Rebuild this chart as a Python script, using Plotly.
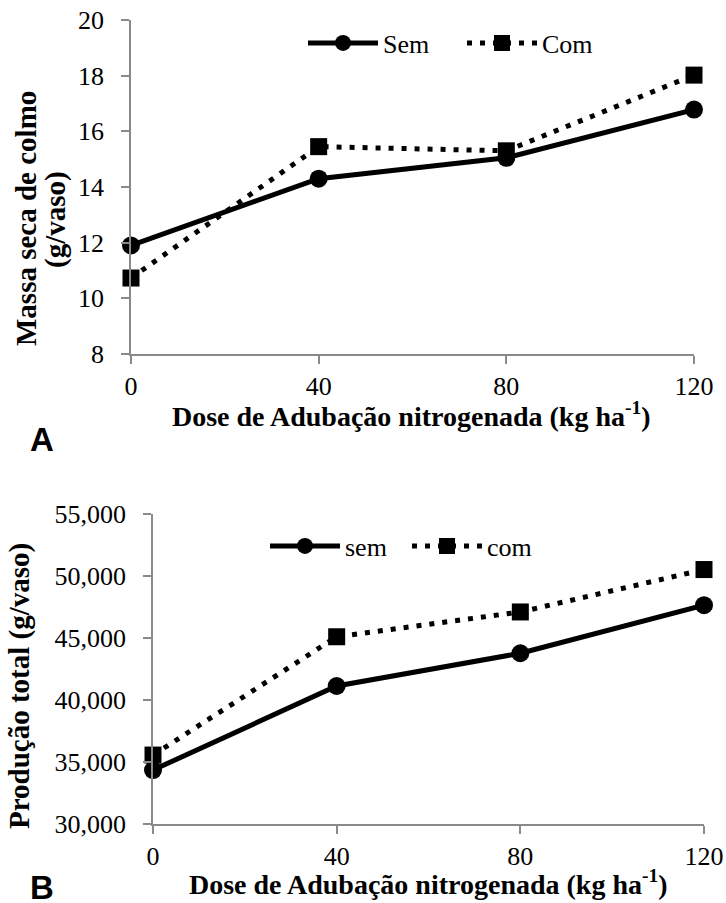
import plotly.graph_objects as go

doses = [0, 40, 80, 120]
massa_sem = [11.9, 14.3, 15.05, 16.78]
massa_com = [10.73, 15.45, 15.3, 18.02]
prod_sem = [34350, 41130, 43770, 47650]
prod_com = [35560, 45100, 47100, 50520]

W, H = 726, 903
SERIF = "Liberation Serif"


def px(x):
    return x / W


def py(y):
    return 1 - y / H


fig = go.Figure()

line_sem = dict(color="black", width=5)
line_com = dict(color="black", width=5, dash="5px,8px")
mk_c = dict(symbol="circle", size=18, color="black")
mk_s = dict(symbol="square", size=17, color="black")

fig.add_trace(go.Scatter(x=doses, y=massa_sem, name="Sem", mode="lines+markers",
                         line=line_sem, marker=mk_c, xaxis="x", yaxis="y",
                         legend="legend", cliponaxis=False))
fig.add_trace(go.Scatter(x=doses, y=massa_com, name="Com", mode="lines+markers",
                         line=line_com, marker=mk_s, xaxis="x", yaxis="y",
                         legend="legend", cliponaxis=False))
fig.add_trace(go.Scatter(x=doses, y=prod_sem, name="sem", mode="lines+markers",
                         line=line_sem, marker=mk_c, xaxis="x2", yaxis="y2",
                         legend="legend2", cliponaxis=False))
fig.add_trace(go.Scatter(x=doses, y=prod_com, name="com", mode="lines+markers",
                         line=line_com, marker=mk_s, xaxis="x2", yaxis="y2",
                         legend="legend2", cliponaxis=False))

axis_common = dict(showline=True, linecolor="#8a8a8a", linewidth=1.5, ticks="outside",
                   tickcolor="#8a8a8a", tickwidth=1.5, ticklen=8, showgrid=False,
                   zeroline=False, automargin=False, ticklabeloverflow="allow",
                   tickfont=dict(family=SERIF, size=26, color="black"))
xax = dict(axis_common, ticklabelstandoff=0)
yax = dict(axis_common, ticklabelstandoff=12)

xtitle = "<b>Dose de Adubação nitrogenada (kg ha<sup>-1</sup>)</b>"
tfont = dict(family=SERIF, size=28, color="black")
yfont = dict(family=SERIF, size=29, color="black")


def ann(text, x, y, font, angle=0):
    return dict(text=text, x=px(x), y=py(y), xref="paper", yref="paper",
                xanchor="center", yanchor="middle", showarrow=False,
                textangle=angle, font=font)


fig.update_layout(
    width=W, height=H,
    margin=dict(l=0, r=0, t=0, b=0, autoexpand=False),
    paper_bgcolor="white", plot_bgcolor="white",
    xaxis=dict(domain=[px(131), px(694)], anchor="y", range=[0, 120],
               tickvals=doses, **xax),
    yaxis=dict(domain=[py(354), py(20)], anchor="x", range=[8, 20], dtick=2, **yax),
    xaxis2=dict(domain=[px(153), px(704)], anchor="y2", range=[0, 120],
                tickvals=doses, **xax),
    yaxis2=dict(domain=[py(824), py(514)], anchor="x2", range=[30000, 55000],
                dtick=5000, tickformat=",d", **yax),
    legend=dict(orientation="h", x=px(303), y=py(43), xanchor="left", yanchor="middle",
                font=dict(family=SERIF, size=26, color="black"), bgcolor="rgba(0,0,0,0)",
                itemwidth=70, entrywidth=74),
    legend2=dict(orientation="h", x=px(265), y=py(546), xanchor="left", yanchor="middle",
                 font=dict(family=SERIF, size=26, color="black"), bgcolor="rgba(0,0,0,0)",
                 itemwidth=70, entrywidth=57),
    showlegend=True,
    annotations=[
        ann(xtitle, 412, 414, tfont),
        ann(xtitle, 428, 882, tfont),
        ann("<b>Massa seca de colmo</b>", 26, 219, yfont, -90),
        ann("<b>(g/vaso)</b>", 55, 220, yfont, -90),
        ann("<b>Produção total (g/vaso)</b>", 19, 686, yfont, -90),
        ann("<b>A</b>", 42, 439, dict(family="Liberation Sans", size=33, color="black")),
        ann("<b>B</b>", 42, 887, dict(family="Liberation Sans", size=33, color="black")),
    ],
)

# remove the browser's default page margin so the 726x903 figure fills the window exactly
fig.write_html("out.html", config={"displayModeBar": False},
               post_script="document.body.style.margin='0';document.body.style.overflow='hidden';")
